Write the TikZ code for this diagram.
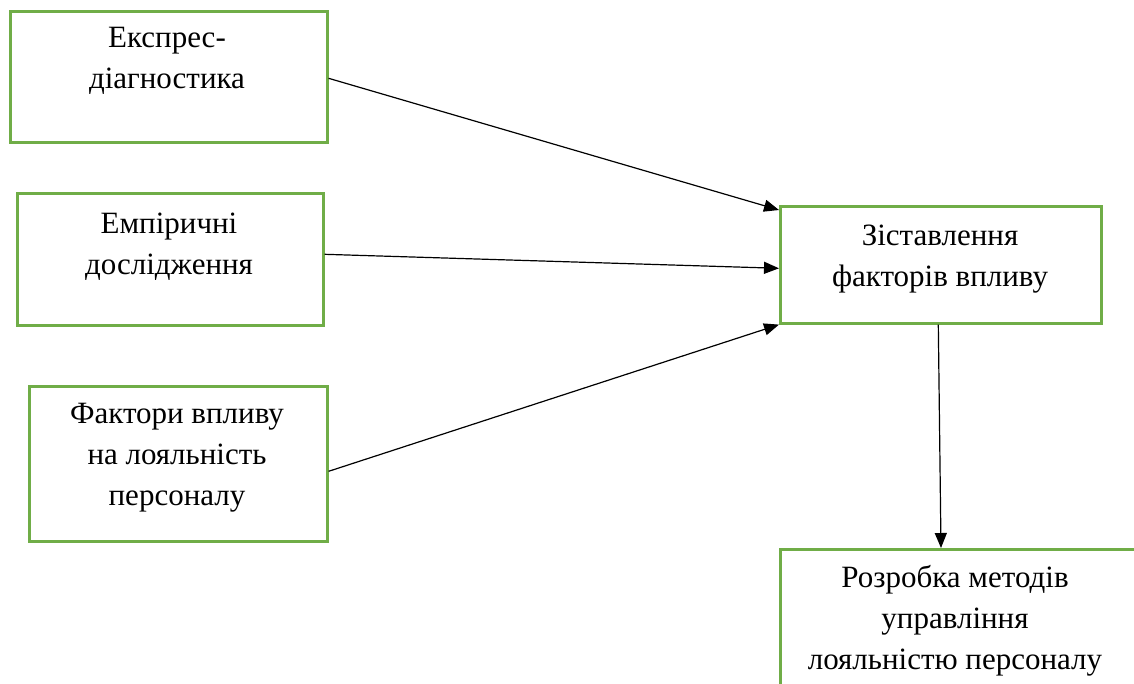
\documentclass[tikz,border=0pt]{standalone}
\usepackage{fontspec}
\setmainfont{Liberation Serif}
\usetikzlibrary{arrows.meta}
\definecolor{boxgreen}{RGB}{112,173,71}
\tikzset{
  boxnode/.style={draw=boxgreen, line width=2.6pt, fill=white, inner sep=0pt, anchor=north west},
  txt/.style={align=center, inner sep=0pt, font=\fontsize{31}{41}\selectfont},
  conn/.style={draw=black, line width=1.2pt, -{Triangle[length=15pt,width=12pt]}}
}
\begin{document}
\begin{tikzpicture}[x=1pt,y=-1pt]
\useasboundingbox (0,0) rectangle (1134,683);
\clip (0,0) rectangle (1134,683);
\node[boxnode, minimum width=317pt, minimum height=131pt] (b1) at (9,10) {};
\node[boxnode, minimum width=306pt, minimum height=132pt] (b2) at (16,192) {};
\node[boxnode, minimum width=298pt, minimum height=155pt] (b3) at (28,385) {};
\node[boxnode, minimum width=321pt, minimum height=117pt] (b4) at (779,205) {};
\node[boxnode, minimum width=370pt, minimum height=150pt] (b5) at (779,548) {};

\node[txt] (t1) at (167,61) {Експрес-\\діагностика};
\node[txt] (t2) at (169,247) {Емпіричні\\дослідження};
\node[txt] (t3) at (177,458) {Фактори впливу\\на лояльність\\персоналу};
\node[txt] (t4) at (940,259) {Зіставлення\\факторів впливу};
\node[txt] (t5) at (955,621) {Розробка методів\\управління\\лояльністю персоналу};

\draw[conn] ([yshift=-1.5pt]b1.east) -- ([yshift=-5pt]b4.north west);
\draw[conn] ([yshift=5pt]b2.east) -- ([yshift=-3.5pt]b4.west);
\draw[conn] ([yshift=-7.5pt]b3.east) -- (b4.south west);
\draw[conn] ([xshift=-2.5pt]b4.south) -- ([xshift=162pt]b5.north west);
\end{tikzpicture}
\end{document}
